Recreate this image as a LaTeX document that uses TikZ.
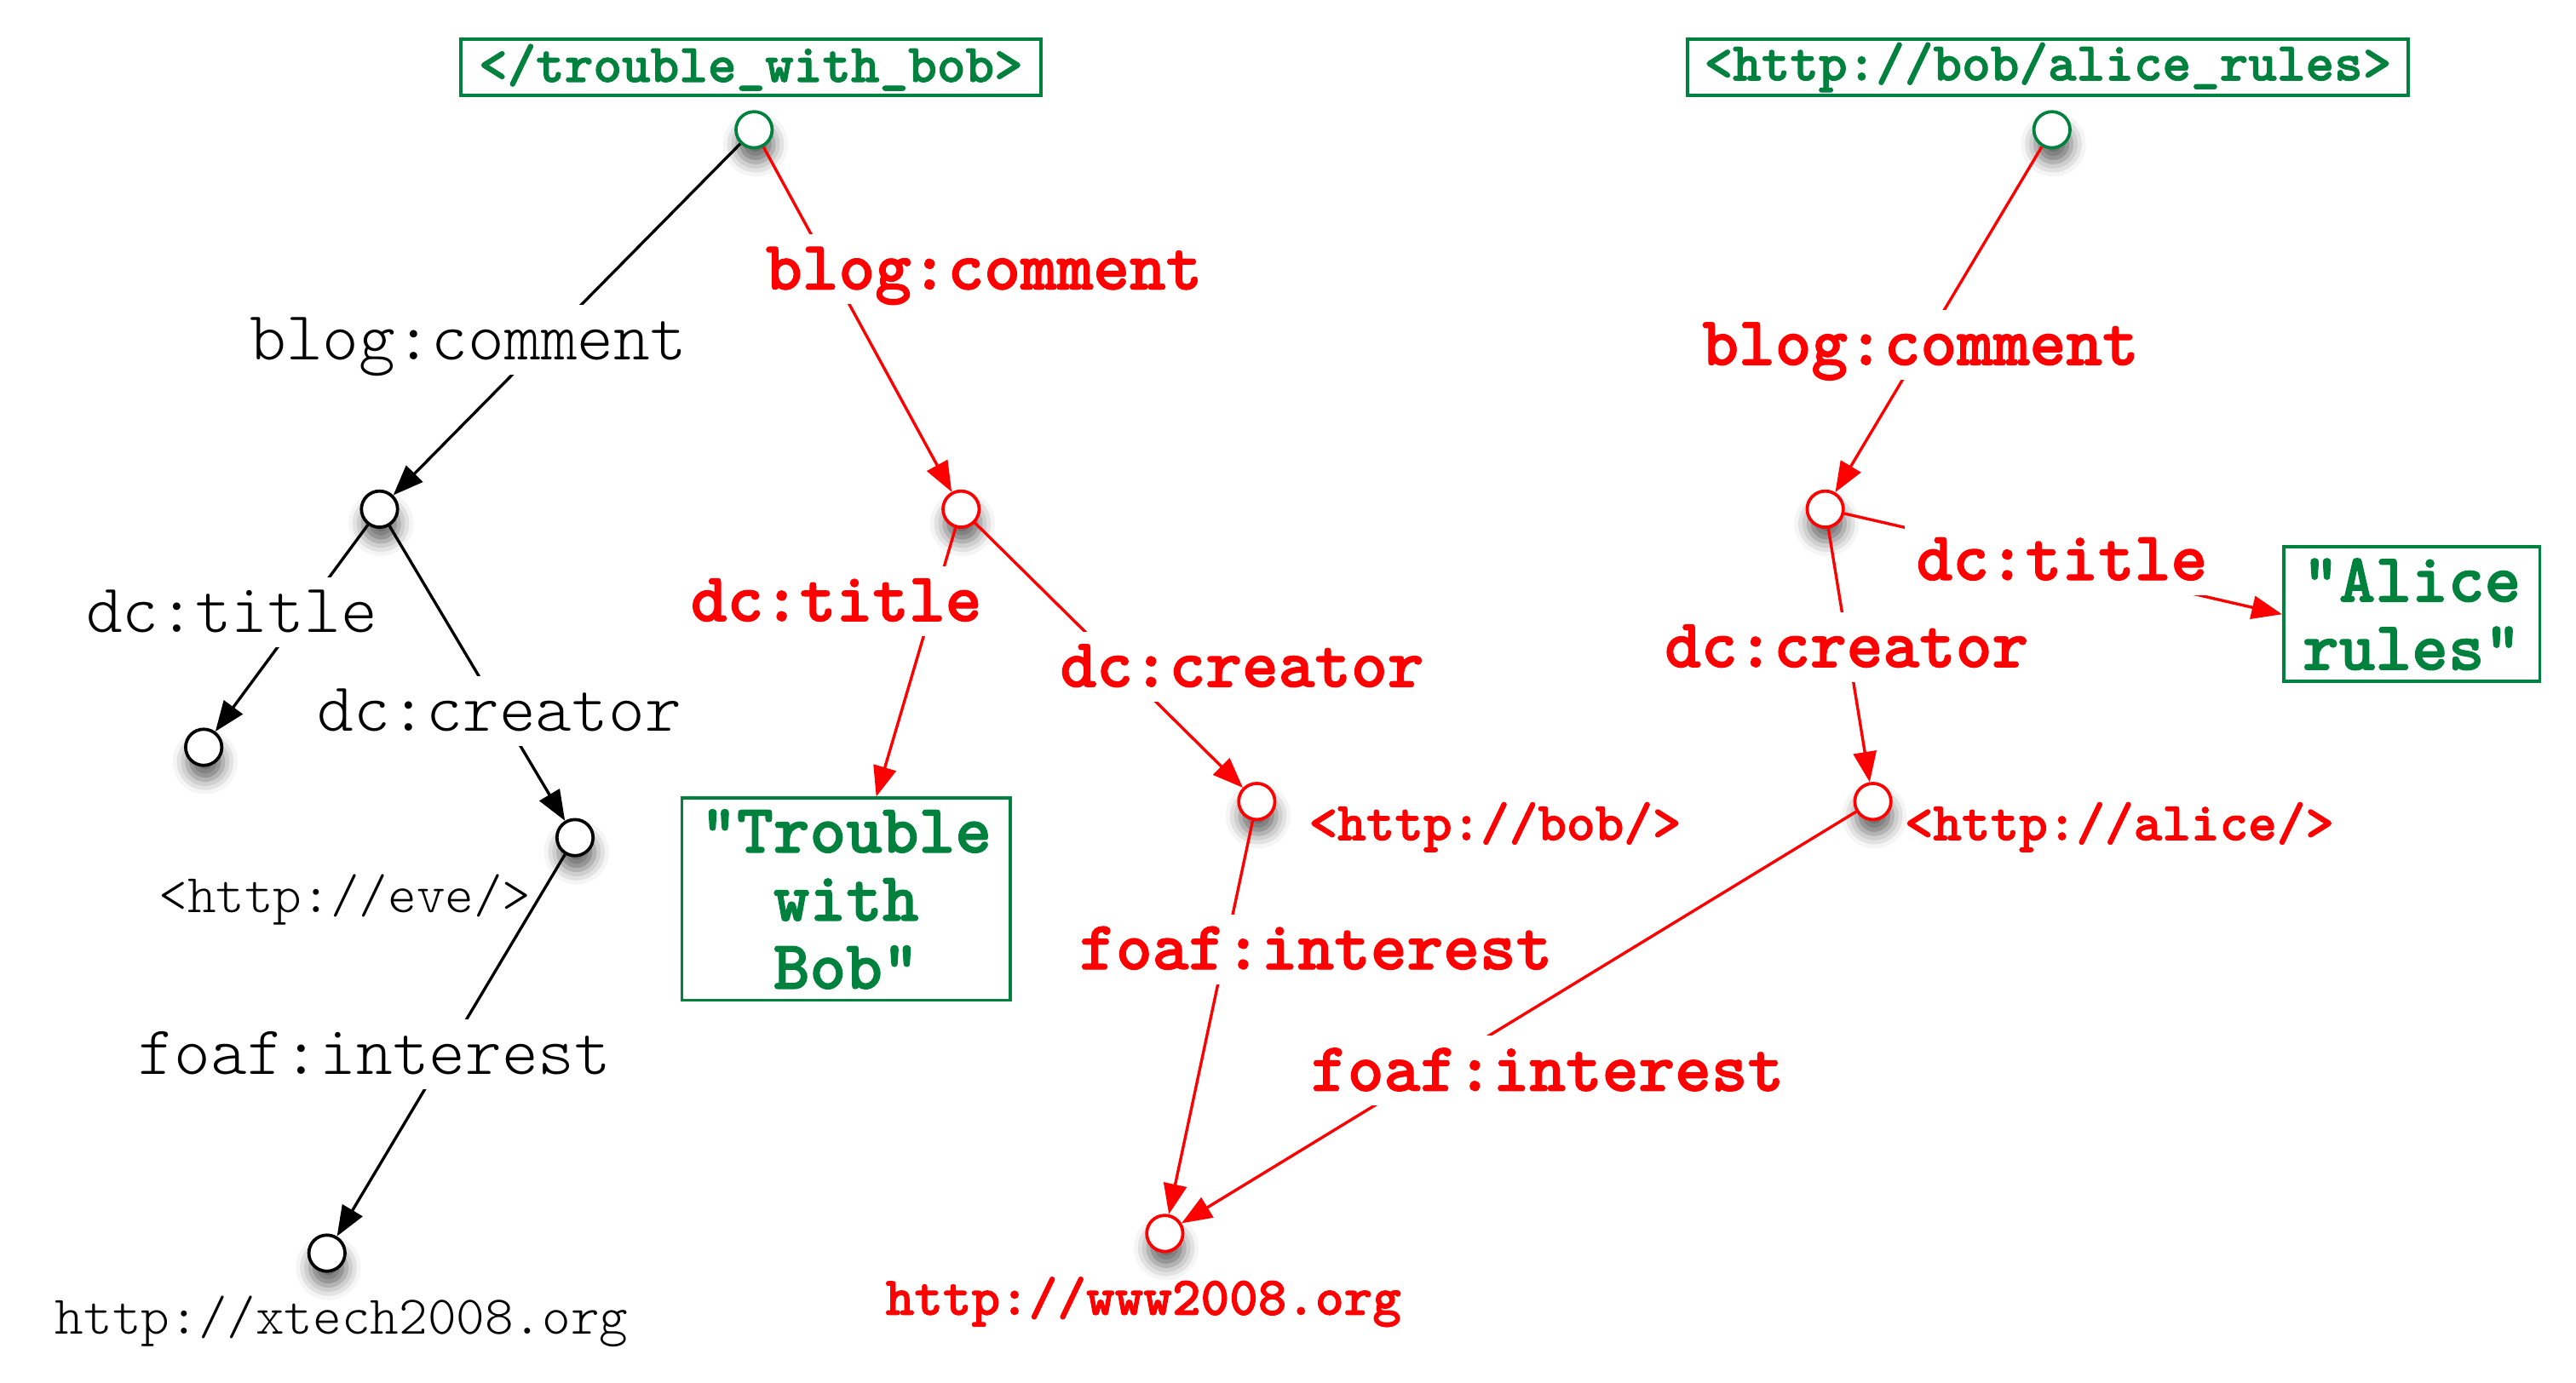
\documentclass[tikz,border=0pt]{standalone}
\usepackage{fontspec}
\newfontfamily\heavytt{lmmonolt10-bold.otf}[FakeBold=1.5]
\newfontfamily\lighttt{lmmonolt10-regular.otf}
\usetikzlibrary{arrows.meta,shapes.geometric,shadows.blur}
\definecolor{dgreen}{RGB}{0,130,62}
\definecolor{rred}{RGB}{255,0,0}
\begin{document}
\begin{tikzpicture}[x=0.02cm,y=-0.02cm,
  bigk/.style={font=\lighttt\fontsize{24}{23.6}\selectfont},
  bigb/.style={font=\heavytt\fontsize{24}{23.6}\selectfont},
  smallk/.style={font=\lighttt\fontsize{18.9}{21}\selectfont},
  smallb/.style={font=\heavytt\fontsize{18.9}{21}\selectfont},
  res/.style={circle, draw, line width=1.1pt, fill=white, minimum size=0.44cm, inner sep=0pt,
    blur shadow={shadow xshift=0.5pt, shadow yshift=-5pt, shadow blur radius=5pt, shadow opacity=60}},
  gres/.style={res, draw=dgreen},
  kres/.style={res, draw=black},
  rres/.style={res, draw=rred},
  vbox/.style={draw=dgreen, line width=1.1pt, text=dgreen, align=center, inner sep=0pt},
  lbl/.style={fill=white, inner sep=4pt, text height=15pt, text depth=1.2pt},
  klbl/.style={lbl, text=black, bigk},
  rlbl/.style={lbl, text=rred, bigb},
  stxt/.style={inner sep=0pt, text height=11.8pt, text depth=1pt},
  ktxt/.style={stxt, smallk, text=black},
  rtxt/.style={stxt, smallb, text=rred},
  kedge/.style={draw=black, line width=1pt},
  redge/.style={draw=rred, line width=1pt},
  tip/.style={-{Triangle[length=10.5pt,width=8pt]}}
]
\useasboundingbox (0,0) rectangle (1568,842);

% top boxes
\node[vbox, smallb, minimum width=7.06cm, minimum height=0.68cm] (t1) at (457,41) {</trouble\_with\_bob>};
\node[vbox, smallb, minimum width=8.78cm, minimum height=0.68cm] (t2) at (1246.5,41) {<http://bob/alice\_rules>};

% resource circles
\node[gres] (r1) at (459,79) {};
\node[gres] (r2) at (1249,79) {};
\node[kres] (A) at (231,310) {};
\node[kres] (B) at (124,455) {};
\node[kres] (C) at (350,510) {};
\node[kres] (D) at (199,763) {};
\node[rres] (E) at (585,310) {};
\node[rres] (F) at (765,488) {};
\node[rres] (G) at (709,751) {};
\node[rres] (H) at (1111,310) {};
\node[rres] (I) at (1140,488) {};

% literal boxes
\node[vbox, bigb, minimum width=4cm, minimum height=2.46cm] (trouble) at (515,547.5) {"Trouble\\with\\Bob"};
\node[vbox, bigb, minimum width=3.12cm, minimum height=1.64cm] (alice) at (1468,374) {"Alice\\rules"};

% plain texts
\node[ktxt] (eve) at (210,546) {<http://eve/>};
\node[ktxt] (xtech) at (208,803) {http://xtech2008.org};
\node[rtxt] (bob) at (910,502) {<http://bob/>};
\node[rtxt] (www) at (696,791) {http://www2008.org};
\node[rtxt] (alicetxt) at (1290,502) {<http://alice/>};

% connectors
\draw[kedge, tip] (r1) -- (A);
\draw[kedge, tip] (A) -- (B);
\draw[kedge, tip] (A) -- (C);
\draw[kedge, tip] (C) -- (D);
\draw[redge, tip] (r1) -- (E);
\draw[redge, tip] (E) -- (trouble);
\draw[redge, tip] (E) -- (F);
\draw[redge, tip] (F) -- (G);
\draw[redge, tip] (r2) -- (H);
\draw[redge, tip] (H) -- (alice.west);
\draw[redge, tip] (H) -- (I);
\draw[redge, tip] (I) -- (G);

% edge labels (on top, white background)
\node[klbl] (lb1) at (285,207) {blog:comment};
\node[klbl] (lb2) at (141,373) {dc:title};
\node[klbl] (lb3) at (304,433) {dc:creator};
\node[klbl] (lb4) at (228,642) {foaf:interest};
\node[rlbl] (lr1) at (599,164) {blog:comment};
\node[rlbl] (lr2) at (509,366) {dc:title};
\node[rlbl] (lr3) at (756,406) {dc:creator};
\node[rlbl] (lr4) at (801,578) {foaf:interest};
\node[rlbl] (lr5) at (1169,210) {blog:comment};
\node[rlbl] (lr6) at (1255,341) {dc:title};
\node[rlbl] (lr7) at (1124,394) {dc:creator};
\node[rlbl] (lr8) at (942,652) {foaf:interest};
\end{tikzpicture}
\end{document}
